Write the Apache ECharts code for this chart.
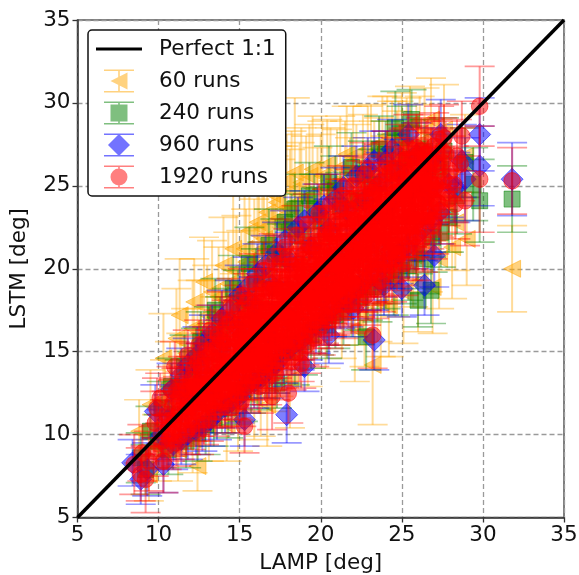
<!DOCTYPE html>
<html><head><meta charset="utf-8">
<style>html,body{margin:0;padding:0;background:#fff}#c{width:579px;height:575px}</style>
<script src="https://cdn.jsdelivr.net/npm/echarts@6/dist/echarts.min.js"></script>
</head><body><div id="c"></div>
<script>
// each row: [LAMP, LSTM, LSTM error]
const runs60 = [[18.4,25.8,4.5],[31.8,20,2.6],[29,21.8,2.8],[12.4,8.1,1.5],[23.2,14.2,3.6],[11.3,17.2,3.4],[10.3,14.6,2.7],[11.1,15.8,3],[12.2,18,2.6],[12.8,19.2,2.7],[13.4,16.2,3.1],[14,20.2,2.9],[14.6,21.2,3.2],[15.1,19,3.3],[15.6,22.3,3.1],[16.2,21.1,3.6],[16.7,23.4,2.9],[17,24.5,3.2],[17.5,22.8,3.8],[17.9,25.3,2.8],[18.7,24.1,3.5],[19.3,25.6,3.1],[19.8,23.4,3.9],[20.4,26.3,2.7],[21,25,3.4],[21.6,26.9,2.9],[22.2,25.4,3.3],[22.9,27.2,2.6],[23.6,26.1,3],[24.1,28,2.4],[24.8,27.2,2.9],[25.5,28.7,2.3],[26.1,27.6,2.8],[26.8,29,2.5],[27.6,28.4,2.7],[8.8,10.2,1.9],[9.5,11.8,2.1],[9.9,9.2,2],[10.4,12.1,2.4],[10.9,11,2.3],[11.4,13.5,2.6],[11.9,12,2.7],[12.4,14.8,2.8],[12.9,13.2,2.5],[13.5,15.4,2.9],[14.1,13.8,3],[14.7,16.9,2.8],[15.2,15.1,3.1],[15.8,17.8,3],[16.3,13,3.1],[16.9,18.9,3.1],[17.4,15.7,3.4],[18.1,13.3,2.9],[18.6,20.2,3.3],[19.2,16,3.1],[19.7,21.4,3],[20.3,17.2,3.2],[20.8,22.3,3],[21.3,17.9,3.3],[21.9,23.1,3.1],[22.4,18.6,3.2],[23,24.2,2.7],[23.5,19.1,3.5],[24,24.8,3.2],[24.6,20.1,3],[25.1,25.7,2.8],[25.7,20.8,3.1],[26.2,26,3],[26.6,21.5,2.9],[27.2,26.3,2.7],[27.8,24,3],[28.3,22.8,2.9],[28.9,26.8,2.5],[22.1,16.4,3.2],[24.2,17.8,3.1],[26.9,18.9,2.8],[14.9,11.4,2.4],[13.1,10.5,2.1],[15.9,12.2,2.5],[17,14,2.6],[11.2,9.1,1.9],[9.4,7.6,1.6],[12.6,16.5,2.8],[13.7,18.3,3],[15.4,20.4,3.2],[16.4,22.4,3.3],[18.1,23.7,3.5],[20,24.8,3.3],[21.8,24.3,3.6],[23.3,25.7,3.2],[24.7,26.4,3.1],[25.9,27.1,2.8],[10.7,13.1,2.5],[11.7,14.9,2.7],[12.1,16.4,2.9],[13,17.2,3],[13.3,18.6,3.1],[14.3,19.1,3.1],[14.8,19.9,3.3],[15.3,21.2,3.4],[15.9,20.7,3.5],[16.1,22.8,3.2],[16.5,21.8,3.7],[17.1,22.9,3.9],[17.3,24,3.4],[17.7,23.6,3.8],[18.2,24.7,3.6],[18.8,25.2,3.3],[19.1,24.3,3.7],[19.5,26,3.2],[20.1,25.6,3.3],[20.6,25.1,3.4],[21.2,26.1,3.1],[21.5,25.4,3.5],[22,26.8,3],[22.6,26.1,3.2],[23.1,27,2.9],[23.8,27.6,2.8],[24.4,27.1,3],[25,28,2.6],[25.3,27.5,2.8],[26.4,28.3,2.6],[22.7,17.3,3.2],[23.7,17.9,3.2],[25.1,18.6,3.1],[26,19.2,3],[27.3,20.6,3],[28.1,21.3,3.1],[16.7,11.8,2.5],[14.2,10.6,2.2],[12.1,9.7,2]];
const runs240 = [[31.8,24.2,2],[17.8,22.8,1.9],[26.8,18.7,2],[26,18.1,1.6],[22.8,15.9,2],[17.3,13.1,1.5],[29.4,25.1,2.2],[29.8,24.1,2.5],[28.9,26.4,2.1],[24.6,28.5,2.2],[25.6,29,1.8],[23.6,27.2,2],[21.9,26.1,2.1],[20.5,25.2,2.2],[19.3,24.4,2],[18.4,23.6,2.1],[16.8,21.4,2.2],[15.6,20.3,2.2],[14.6,18.8,2],[13.5,17.5,1.9],[12.6,15.6,1.8],[11.6,14.1,1.9],[10.8,12.9,1.7],[10.2,11.6,1.6],[9.5,10.2,1.5],[8.9,8.6,1.5],[9.2,7.9,1.5],[10.6,9.1,1.5],[11.7,9.6,1.6],[12.9,10.6,1.8],[13.9,11.8,1.7],[14.8,12.4,1.8],[15.7,13.1,1.8],[16.6,14.1,1.9],[17.9,15,1.9],[18.9,15.6,2],[19.9,16.8,2],[20.9,17.2,2],[21.9,17.9,2],[22.9,18.9,2],[24,19.7,2.1],[25,19.9,2],[25.9,20.9,2.1],[26.9,21.9,2.1],[27.9,23.1,2.1],[28.4,24.4,2.3],[27.4,26,2.1],[26.4,27.1,1.9],[25.3,26.6,2],[24.4,26,2.1],[23.2,25.1,2.1],[22.3,24.1,2],[21.2,23.8,2],[20,22.9,2],[18.9,22,2.1],[17.6,20.6,2.1],[16.4,19.6,2],[15.3,18.1,2],[14.2,16.9,1.9],[13.1,15.8,1.9],[12.1,13.3,1.7],[11,11.2,1.7],[10,9.6,1.6],[13.4,12.9,1.8],[14.4,14.1,1.8],[15.6,15.2,1.9],[16.8,16.6,1.9],[18,17.4,2],[19.2,18.8,1.9],[20.4,20,2],[21.6,21.1,2],[22.8,22.5,2],[24,23.4,2.1],[25.2,24.7,2],[26.4,25.6,2.1],[27.6,27.1,2],[11.3,12.8,1.7],[12.3,14.6,1.8],[13.8,16.4,1.9],[14.9,17.9,2],[16,19.1,2.1],[17.2,20.9,2.1],[18.2,22.4,2.1],[19.6,23.6,2.1],[20.9,24.7,2.1],[22.6,25.7,2],[24,26.9,2],[25,27.9,1.9],[12.4,10.1,1.7],[13.4,11,1.7],[14.3,11.6,1.8],[15.2,12.6,1.8],[16.1,13.4,1.9],[17.2,14.4,1.9],[18.4,15,2],[19.4,16,2],[20.4,16.6,2],[21.4,17.4,2],[22.4,18.3,2],[23.5,18.9,2.1],[24.5,19.3,2.1],[25.4,20.2,2.1],[26.4,20.6,2.1],[27.4,22.2,2.1]];
const runs960 = [[31.8,25.4,2.2],[17.9,11.2,1.7],[15.3,10.9,1.6],[23.3,15.7,1.8],[10.3,8.2,1.7],[8.4,8.3,1.4],[8.9,7.3,1.5],[9.3,7.9,1.6],[9.8,11.4,1.6],[10.2,10,1.5],[29.8,28.1,2.2],[27.4,28.1,2.1],[29.8,26.2,2.4],[28.7,26.5,2.2],[28.9,25.4,2.5],[28.3,24.9,2.1],[19,14.1,1.5],[26.4,19,1.8],[25,18.8,1.7],[27,20.8,1.9],[22,17.6,1.7],[23.9,19,1.8],[20.5,16,1.7],[25.4,28.1,1.8],[24.4,27.2,1.8],[23.3,26.5,1.8],[22.2,25.6,1.8],[20.9,24.2,1.9],[19.8,23.4,1.7],[18.6,22.5,1.8],[17.3,21,1.8],[16.1,19.7,1.8],[15,18.4,1.8],[13.9,17,1.7],[12.8,15.5,1.7],[11.8,14.2,1.6],[10.8,12.7,1.6],[10.9,9.4,1.5],[11.8,10,1.5],[12.7,10.5,1.5],[13.6,11.3,1.6],[14.5,12,1.6],[15.4,12.9,1.6],[16.3,13.4,1.6],[17.2,14.2,1.7],[18.2,15.3,1.7],[19.2,16.2,1.7],[20.2,17.1,1.7],[21.2,18.1,1.7],[22.3,18.8,1.8],[23.3,19.9,1.8],[24.3,20.6,1.8],[25.3,21.3,1.8],[26.3,22.4,1.9],[27.3,23.4,1.9],[27.9,25.1,2],[26.9,26.6,1.9],[25.9,26.9,1.9],[24.8,25.9,1.9],[23.7,25.2,1.8],[22.7,24.1,1.8],[21.6,23.5,1.8],[20.5,22.4,1.8],[19.4,21.3,1.8],[18.1,20.4,1.8],[17,19,1.8],[15.9,17.8,1.7],[14.9,16.4,1.7],[13.8,15.2,1.7],[12.6,13.9,1.6],[11.6,12.4,1.6],[10.6,10.9,1.5],[12.2,12,1.5],[13.2,13,1.6],[14.3,14,1.6],[15.4,15.2,1.6],[16.6,16.1,1.7],[17.7,17.5,1.7],[18.8,18.4,1.7],[19.9,19.7,1.7],[21,20.7,1.7],[22.1,21.7,1.8],[23.2,23,1.8],[24.4,23.9,1.8],[25.6,25,1.9],[26.6,24.6,1.9],[11.4,13.6,1.6],[12.4,14.8,1.7],[13.3,16.1,1.7],[14.4,17.5,1.8],[15.5,18.9,1.8],[16.6,20.2,1.8],[17.8,21.7,1.8],[19,22.9,1.8],[20.2,23.8,1.9],[21.4,24.9,1.9],[22.9,26,1.9],[24,26.5,1.8],[11.4,9.7,1.5],[12.3,10.3,1.5],[13.2,10.9,1.6],[14.1,11.7,1.6],[15,12.3,1.6],[15.9,13.2,1.6],[16.8,13.9,1.7],[17.7,14.8,1.7],[18.7,15.6,1.7],[19.7,16.6,1.7],[20.7,17.6,1.7],[21.7,18.3,1.8],[22.8,19.3,1.8],[23.8,20.1,1.8],[24.8,20.9,1.8],[25.8,21.9,1.9],[26.8,22.9,1.9]];
const runs1920 = [[31.8,25.3,2],[29.8,29.8,2.4],[28.7,28,2.1],[29.8,25.4,3.2],[28.9,24.1,2.7],[28.4,26.8,2.2],[28.2,25.1,2.3],[27.6,27.9,2],[27.5,26.4,2],[27.2,25.3,2],[27,27.4,2],[26.9,24.2,2.1],[26.7,26.2,2],[26.5,22.9,2],[26.4,25.1,1.9],[26.2,27.1,2],[26,23.8,1.9],[25.9,26.3,1.9],[25.7,21.9,1.9],[25.6,24.7,1.9],[25.4,27.3,2],[25.3,23.1,1.9],[25.1,25.5,1.9],[25,21.3,1.9],[24.9,26.8,1.9],[24.7,23.9,1.9],[24.6,20.9,2],[24.4,25.1,1.9],[24.3,22.5,1.8],[24.1,26.4,1.9],[24,24,1.9],[23.9,20.3,1.9],[23.7,22.8,1.8],[23.6,25.6,1.9],[23.5,19.8,1.9],[23.2,16,2],[23.3,21.9,1.8],[23.1,24.6,1.8],[23,23.4,1.8],[22.9,19.3,1.8],[22.7,25.7,1.9],[22.6,21.2,1.8],[22.4,24,1.8],[22.3,18.7,1.8],[22.1,22.6,1.8],[22,25,1.8],[21.9,20.2,1.8],[21.7,23.6,1.8],[21.6,18.4,1.8],[21.4,21.6,1.7],[21.3,24.4,1.8],[21.1,19.7,1.8],[21,22.9,1.8],[20.9,17.8,1.8],[20.7,20.8,1.7],[20.6,23.9,1.8],[20.4,18.9,1.7],[20.3,22.1,1.7],[20.2,17.2,1.7],[20,20.1,1.7],[19.9,23.3,1.8],[19.7,18.4,1.7],[19.6,21.4,1.7],[19.5,16.6,1.7],[19.3,19.5,1.7],[19.2,22.7,1.8],[19,17.7,1.7],[18.9,20.8,1.7],[18.8,14.3,1.5],[18.7,16.2,1.7],[18.6,18.9,1.7],[18.5,22,1.8],[18.3,17.1,1.7],[18.2,20.2,1.7],[18,12.5,1.8],[18,15.7,1.7],[17.9,18.2,1.6],[17.8,21.3,1.7],[17.6,16.5,1.7],[17.5,19.5,1.7],[17.3,15,1.6],[17.2,17.5,1.6],[17,12.3,2],[17.1,20.4,1.7],[16.9,15.9,1.6],[16.8,18.7,1.6],[16.7,14.4,1.6],[16.6,16.9,1.6],[16.5,19.9,1.7],[16.3,15.2,1.6],[16.2,17.9,1.6],[16.1,13.8,1.6],[16,16.1,1.6],[15.9,19.2,1.7],[15.7,14.7,1.6],[15.6,17.2,1.6],[15.5,13.1,1.5],[15.3,10.5,1.6],[15.3,15.5,1.5],[15.2,18.4,1.6],[15,14,1.5],[14.9,16.6,1.5],[14.8,12.5,1.5],[14.6,15,1.5],[14.5,17.8,1.6],[14.3,13.4,1.5],[14.2,15.9,1.5],[14.1,12,1.5],[14,14.4,1.5],[13.9,17,1.6],[13.7,12.9,1.5],[13.6,15.2,1.5],[13.5,11.4,1.5],[13.3,13.8,1.5],[13.2,16.3,1.5],[13,12.2,1.5],[12.9,14.6,1.5],[12.8,10.9,1.5],[12.6,13.1,1.5],[12.5,15.4,1.5],[12.3,11.6,1.4],[12.2,14,1.5],[12,10.5,1.4],[11.9,12.7,1.4],[11.8,14.8,1.5],[11.6,11.1,1.4],[11.5,13.3,1.4],[11.3,9.9,1.4],[11.2,12.1,1.4],[11,14.1,1.5],[10.9,10.6,1.4],[10.8,12.7,1.4],[10.5,9.3,1.4],[10.5,11.2,1.4],[10.3,8.4,1.9],[10.2,9.6,1.6],[10.1,12.2,1.5],[9.9,11.6,1.8],[9.8,10.7,1.9],[9.7,9,1.5],[9.4,8.4,1.8],[9.2,7.3,2],[9,8.9,1.7],[8.9,7.6,1.6],[8.5,8.2,1.8],[12.2,12.4,1.4],[12.9,13,1.4],[13.6,13.7,1.4],[14.4,14.3,1.5],[15.1,15,1.5],[15.8,15.8,1.5],[16.6,16.4,1.6],[17.3,17.3,1.6],[18.1,17.9,1.6],[18.9,18.7,1.6],[19.7,19.4,1.6],[20.5,20.3,1.7],[21.3,21,1.7],[22.1,21.9,1.7],[22.9,22.6,1.8],[23.7,23.5,1.8],[24.5,24.2,1.8],[25.2,25,1.9],[26,25.6,1.9],[26.8,26.5,2],[14.7,13.2,1.5],[15.4,14.1,1.5],[16.2,14.8,1.6],[17,15.6,1.6],[17.8,16.3,1.6],[18.6,17.2,1.6],[19.4,17.9,1.7],[20.2,18.6,1.7],[21,19.4,1.7],[21.8,20.3,1.7],[22.6,21,1.8],[23.4,21.7,1.8],[24.2,22.7,1.8],[25,23.4,1.9],[25.8,24.2,1.9],[13.2,14.8,1.5],[14,15.6,1.5],[14.8,16.4,1.6],[15.5,17.2,1.6],[16.3,17.9,1.6],[17.1,18.7,1.6],[17.9,19.5,1.7],[18.7,20.3,1.7],[19.5,21.1,1.7],[20.3,21.9,1.7],[21.1,22.7,1.8],[21.9,23.5,1.8],[22.7,24.3,1.8],[23.5,25,1.9],[24.3,25.8,1.9],[25.1,26.5,1.9],[25.9,27.3,2],
[10.6,10.4,1.4],[10.9,11.9,1.4],[11.1,9.5,1.4],[11.3,11.4,1.4],[11.4,12.6,1.4],[11.7,10.2,1.4],[11.8,11.8,1.4],[12,13.3,1.4],[12.1,11,1.4],[12.3,12.9,1.4],[12.4,14.4,1.5],[12.5,10.2,1.4],[12.7,11.9,1.4],[12.8,13.6,1.4],[13,15,1.5],[13.1,11,1.4],[13.2,12.7,1.4],[13.4,14.4,1.4],[13.5,12.3,1.4],[13.7,16,1.5],[13.8,11.9,1.5],[13.9,13.2,1.4],[14,15,1.5],[14.2,12.7,1.5],[14.3,14.9,1.5],[14.4,16.8,1.5],[14.5,11.6,1.5],[14.7,13.9,1.5],[14.8,15.6,1.5],[14.9,13,1.5],[15,17.5,1.5],[15.1,12,1.5],[15.2,14.6,1.5],[15.3,16.4,1.5],[15.4,12.9,1.5],[15.5,18.1,1.6],[15.6,15.3,1.5],[15.7,13.6,1.5],[15.8,17.1,1.6],[15.9,14.3,1.5],[16,18.4,1.6],[16.1,15.3,1.5],[16.2,12.9,1.6],[16.3,16.9,1.6],[16.4,14.1,1.6],[16.5,18.8,1.6],[16.6,15.4,1.6],[16.7,13.4,1.6],[16.8,17.6,1.6],[16.9,14.7,1.6],[17,19.5,1.6],[17.1,16.4,1.6],[17.2,13.7,1.6],[17.3,18.4,1.6],[17.4,15.6,1.6],[17.5,20.3,1.7],[17.6,14.4,1.6],[17.7,17.4,1.6],[17.8,19,1.6],[17.9,15.2,1.6],[18,20.7,1.7],[18.1,16.4,1.6],[18.2,14.4,1.7],[18.3,18.7,1.6],[18.4,15.6,1.7],[18.5,19.9,1.7],[18.6,17.9,1.6],[18.7,14.9,1.7],[18.8,21.2,1.7],[18.9,16.3,1.7],[19,19.3,1.7],[19.1,15.4,1.7],[19.2,17.9,1.7],[19.3,21.4,1.7],[19.4,16.6,1.7],[19.5,18.8,1.7],[19.6,15.8,1.7],[19.7,20.4,1.7],[19.8,17.4,1.7],[19.9,22,1.7],[20,16.5,1.7],[20.1,19,1.7],[20.2,21,1.7],[20.3,17.8,1.7],[20.4,23,1.8],[20.5,16.9,1.7],[20.6,19.8,1.7],[20.7,18.4,1.7],[20.8,22,1.7],[20.9,17.2,1.8],[21,20.4,1.7],[21.1,18.2,1.7],[21.2,23.6,1.8],[21.3,19.2,1.7],[21.4,17.6,1.8],[21.5,22.2,1.7],[21.6,20.2,1.7],[21.7,18.9,1.8],[21.8,24.2,1.8],[21.9,17.9,1.8],[22,21.1,1.7],[22.1,19.6,1.8],[22.2,23.1,1.8],[22.3,18,1.8],[22.4,20.8,1.8],[22.5,24.7,1.8],[22.6,19.2,1.8],[22.7,22.2,1.8],[22.8,18.4,1.8],[22.9,20.4,1.8],[23,24.9,1.8],[23.1,19.8,1.8],[23.2,22.2,1.8],[23.3,18.8,1.8],[23.4,23.8,1.8],[23.5,20.8,1.8],[23.6,24.6,1.8],[23.7,19.3,1.9],[23.8,21.9,1.8],[23.9,23.3,1.8],[24,19.8,1.9],[24.1,25.7,1.9],[24.2,21,1.8],[24.3,23.8,1.9],[24.4,19.9,1.9],[24.5,22,1.8],[24.6,26,1.9],[24.7,20.6,1.9],[24.8,23.1,1.9],[24.9,25.4,1.9],[25,22,1.9],[25.1,20.3,1.9],[25.2,24.2,1.9],[25.3,26.6,1.9],[25.4,21.2,1.9],[25.5,23.7,1.9],[25.6,26,1.9],[25.7,22.6,1.9],[25.8,25.1,1.9],[25.9,21.3,2],[26,26.8,2],[26.1,23,1.9],[26.2,25,1.9],[26.3,21.8,2],[26.4,26.4,2],[26.5,24.3,1.9],[26.6,27,2],[26.7,23.2,2],[26.8,25.1,2],[27,22.9,2],[27.1,26.3,2],[27.2,24,2],[27.3,27.8,2],[27.4,23.5,2],[27.6,25.3,2],[27.7,26.9,2],[27.9,24.2,2],[28,25.9,2.1],[28.3,23.9,2.1],[28.6,26.3,2.2],
[10.4,10.7,1.4],[10.7,9.8,1.4],[11,11,1.4],[11.2,10.3,1.4],[11.6,11.9,1.4],[11.9,10.9,1.4],[12.2,11.4,1.4],[12.4,13.1,1.4],[12.7,12.4,1.4],[13,13.5,1.4],[13.1,11.8,1.4],[13.3,12.6,1.4],[13.5,13.2,1.4],[13.8,14.4,1.4],[14,13.1,1.5],[14.2,14.2,1.5],[14.5,13,1.5],[14.7,14.5,1.5],[14.9,13.9,1.5],[15.1,15.9,1.5],[15.3,14.2,1.5],[15.6,14.4,1.5],[15.8,16.4,1.5],[16,14.7,1.5],[16.2,16.4,1.6],[16.4,15.6,1.6],[16.6,17.5,1.6],[16.8,15,1.6],[17,16.8,1.6],[17.2,15.2,1.6],[17.4,18,1.6],[17.6,17.4,1.6],[17.8,15.8,1.6],[18,18.7,1.6],[18.2,16.9,1.6],[18.4,19.2,1.6],[18.6,16.2,1.7],[18.8,18,1.6],[19,19.9,1.7],[19.2,17.2,1.7],[19.4,18.6,1.7],[19.6,20.2,1.7],[19.8,18.6,1.7],[20,19.2,1.7],[20.2,20.7,1.7],[20.4,18.1,1.7],[20.6,21,1.7],[20.8,19.1,1.7],[21,21.5,1.7],[21.2,18.8,1.7],[21.4,20.4,1.7],[21.6,22.4,1.7],[21.8,19.3,1.8],[22,20.9,1.7],[22.2,21.1,1.8],[22.4,22.7,1.8],[22.6,20.1,1.8],[22.8,21.3,1.8],[23,22.1,1.8],[23.2,23.6,1.8],[23.4,20.6,1.8],[23.6,22.6,1.8],[23.8,24.4,1.8],[24,21.7,1.8],[24.2,23.6,1.8],[24.4,21.2,1.9],[24.6,24.6,1.9],[24.8,22.1,1.9],[25,24.6,1.9],[25.2,22.6,1.9],[25.4,25.7,1.9],[25.6,23.2,1.9],[25.8,22.6,1.9],[26,25,1.9],[26.2,24.1,1.9],[26.4,23.2,1.9],[26.6,25.8,2],[26.8,23.7,2],[27,24.8,2],
[10.8,10.1,1.4],[11.1,12.6,1.4],[11.4,10.7,1.4],[11.7,12.9,1.4],[12,11.7,1.4],[12.2,12.9,1.4],[12.5,11.3,1.4],[12.6,14.1,1.4],[12.9,12,1.4],[13.1,13.2,1.4],[13.3,15.2,1.5],[13.4,11.9,1.4],[13.6,13.1,1.4],[13.8,15.7,1.5],[13.9,12.6,1.4],[14.1,14.1,1.4],[14.2,16.6,1.5],[14.4,13.2,1.5],[14.6,14,1.5],[14.7,15.8,1.5],[14.9,12.4,1.5],[15.1,16.9,1.5],[15.2,13.6,1.5],[15.4,15.7,1.5],[15.5,14.6,1.5],[15.7,16.9,1.5],[15.8,13.3,1.5],[16,17.4,1.5],[16.1,14.3,1.5],[16.3,16.2,1.6],[16.4,18.4,1.6],[16.5,14.9,1.6],[16.7,17.4,1.6],[16.9,16.4,1.6],[17,14.3,1.6],[17.2,18.9,1.6],[17.3,16.1,1.6],[17.5,17.4,1.6],[17.6,15.3,1.6],[17.8,18.3,1.6],[17.9,16.8,1.6],[18.1,19.6,1.6],[18.2,15.4,1.6],[18.4,17.5,1.6],[18.5,18.9,1.6],[18.7,16.9,1.6],[18.8,20.1,1.7],[19,15.9,1.7],[19.1,18.4,1.7],[19.3,20.4,1.7],[19.4,17.3,1.7],[19.6,19.3,1.7],[19.7,16.9,1.7],[19.9,21.1,1.7],[20,18.2,1.7],[20.1,20.2,1.7],[20.3,17.1,1.7],[20.4,19.6,1.7],[20.6,22.1,1.7],[20.7,17.7,1.7],[20.9,20.3,1.7],[21,18.7,1.7],[21.2,21.6,1.7],[21.3,20,1.7],[21.5,18.4,1.7],[21.6,23,1.7],[21.8,21,1.7],[21.9,19.2,1.8],[22.1,22.9,1.8],[22.2,20.2,1.8],[22.4,18.9,1.8],[22.5,21.9,1.8],[22.7,23.4,1.8],[22.8,20.1,1.8],[23,19.6,1.8],[23.1,21.4,1.8],[23.3,24.6,1.8],[23.4,22.4,1.8],[23.6,20.3,1.8],[23.7,23.9,1.8],[23.9,21.6,1.8],[24,23,1.8],[24.2,20.2,1.9],[24.3,24.9,1.9],[24.5,23,1.9],[24.6,21.4,1.9],[24.8,24.3,1.9],[24.9,20.9,1.9],[25.1,23.6,1.9],[25.2,21.9,1.9],[25.4,24.4,1.9],[25.5,22.5,1.9],[25.7,26.7,1.9],[25.8,23.4,1.9],[26,21.9,2],[26.1,25.6,2],[26.3,24,1.9],[26.5,26.9,2],[26.7,24.7,2],[26.9,22.6,2],[27.1,25,2],[27.3,23.9,2],[27.5,27.1,2],[27.7,24.6,2],[14.3,12.4,1.5],[15,15.6,1.5],[15.6,16.4,1.5],[16.1,16.8,1.6],[16.6,14.2,1.6],[17.1,17.2,1.6],[17.6,18.6,1.6],[18,17,1.6],[18.5,16.6,1.6],[18.9,19.6,1.7],[19.3,18.2,1.7],[19.7,17.6,1.7],[20.1,18.2,1.7],[20.5,21.4,1.7],[20.9,18.6,1.7],[21.2,20.2,1.7],[21.6,19.4,1.7],[22,19.1,1.7],[22.4,21.6,1.8],[22.8,23.1,1.8],[23.1,20.9,1.8],[23.5,22.2,1.8],[23.9,22,1.8],[24.3,21,1.8],[24.7,22.6,1.9],[25.1,24.4,1.9],[25.5,25,1.9],[25.9,22.9,1.9],[26.3,25.4,2],[26.7,25.3,2]];
const lineValues = [[5,5],[35,35]];
const tickStep = 5;

const seriesNames = ['Perfect 1:1','60 runs','240 runs','960 runs','1920 runs'];
const colors = {orange:'#ffa500',green:'#008000',blue:'#0000ff',red:'#ff0000'};

// legend icons (58×28 box, glyph centred at x=23)
const bbox = 'M0 0L0 0.01M58 28L58 28.01';
const errbar = 'M8 2.5H38V4H8ZM8 24H38V25.5H8ZM22.2 4H23.8V24H22.2Z';
const icons = {
  line:'path://M0 12.4H46V15.6H0Z'+bbox,
  tri:'path://'+errbar+'M14.5 14L31.5 5.5V22.5Z'+bbox,
  sq:'path://'+errbar+'M14.5 5.5H31.5V22.5H14.5Z'+bbox,
  dia:'path://'+errbar+'M23 3L34 14L23 25L12 14Z'+bbox,
  cir:'path://'+errbar+'M23 5.5A8.5 8.5 0 1 1 22.99 5.5Z'+bbox
};

function marker(kind,c,color){
  const s={fill:color,stroke:color,lineWidth:1,opacity:0.5};
  const [x,y]=c;
  if(kind==='tri')return{type:'polygon',shape:{points:[[x-8.5,y],[x+8.5,y-8.5],[x+8.5,y+8.5]]},style:s};
  if(kind==='sq')return{type:'rect',shape:{x:x-8,y:y-8,width:16,height:16},style:s};
  if(kind==='dia')return{type:'polygon',shape:{points:[[x,y-11],[x+11,y],[x,y+11],[x-11,y]]},style:s};
  return{type:'circle',shape:{cx:x,cy:y,r:8.3},style:s};
}
function scatterSeries(name,rows,kind,color,z){
  return {name,type:'custom',data:rows,z,clip:true,encode:{x:0,y:1},animation:false,
    itemStyle:{color,opacity:0.5},
    renderItem(params,api){
      const x=api.value(0),y=api.value(1),e=api.value(2);
      const c=api.coord([x,y]),t=api.coord([x,y+e]),b=api.coord([x,y-e]);
      const ls={stroke:color,lineWidth:2,opacity:0.4,fill:null};
      const cs={stroke:color,lineWidth:1.7,opacity:0.4,fill:null};
      return {type:'group',children:[
        {type:'line',shape:{x1:t[0],y1:t[1],x2:b[0],y2:b[1]},style:ls},
        {type:'line',shape:{x1:t[0]-15,y1:t[1],x2:t[0]+15,y2:t[1]},style:cs},
        {type:'line',shape:{x1:b[0]-15,y1:b[1],x2:b[0]+15,y2:b[1]},style:cs},
        marker(kind,c,color)
      ]};
    }};
}
const axisCommon={type:'value',min:5,max:35,interval:tickStep,
  nameLocation:'middle',
  nameTextStyle:{fontFamily:'DejaVu Sans',fontSize:21.5,color:'#111'},
  axisLine:{show:true,onZero:false,lineStyle:{color:'#333',width:1.5}},
  axisTick:{show:true,length:5,lineStyle:{color:'#333',width:1.3}},
  axisLabel:{fontFamily:'DejaVu Sans',fontSize:21.5,color:'#111',margin:7,showMinLabel:true,showMaxLabel:true},
  splitLine:{show:true,lineStyle:{color:'#9a9a9a',type:[5,3],width:1.3}}
};
const chart=echarts.init(document.getElementById('c'),null,{renderer:'canvas'});
chart.setOption({
  animation:false,backgroundColor:'#fff',
  grid:{left:77.5,right:15,top:20,bottom:57.5,outerBoundsMode:'none',show:true,borderColor:'#555',borderWidth:1.5,backgroundColor:'transparent'},
  xAxis:Object.assign({},axisCommon,{name:'LAMP [deg]',nameGap:35}),
  yAxis:Object.assign({},axisCommon,{name:'LSTM [deg]',nameGap:47}),
  legend:{orient:'vertical',left:88,top:30,padding:[5,10,5,8],itemWidth:58,itemHeight:28,itemGap:4,
    backgroundColor:'#fff',borderColor:'#111',borderWidth:1.5,borderRadius:4,z:20,
    textStyle:{fontFamily:'DejaVu Sans',fontSize:21.5,color:'#111',padding:0},
    data:[
      {name:seriesNames[0],icon:icons.line,itemStyle:{color:'#000',opacity:1}},
      {name:seriesNames[1],icon:icons.tri,itemStyle:{color:colors.orange,opacity:0.5}},
      {name:seriesNames[2],icon:icons.sq,itemStyle:{color:colors.green,opacity:0.5}},
      {name:seriesNames[3],icon:icons.dia,itemStyle:{color:colors.blue,opacity:0.55}},
      {name:seriesNames[4],icon:icons.cir,itemStyle:{color:colors.red,opacity:0.5}}
    ]},
  series:[
    scatterSeries(seriesNames[1],runs60,'tri',colors.orange,2),
    scatterSeries(seriesNames[2],runs240,'sq',colors.green,3),
    scatterSeries(seriesNames[3],runs960,'dia',colors.blue,4),
    scatterSeries(seriesNames[4],runs1920,'cir',colors.red,5),
    {name:seriesNames[0],type:'line',data:lineValues,z:6,symbol:'none',animation:false,silent:true,clip:true,
      lineStyle:{color:'#000',width:3.5},itemStyle:{color:'#000'}}
  ]
});
</script></body></html>
